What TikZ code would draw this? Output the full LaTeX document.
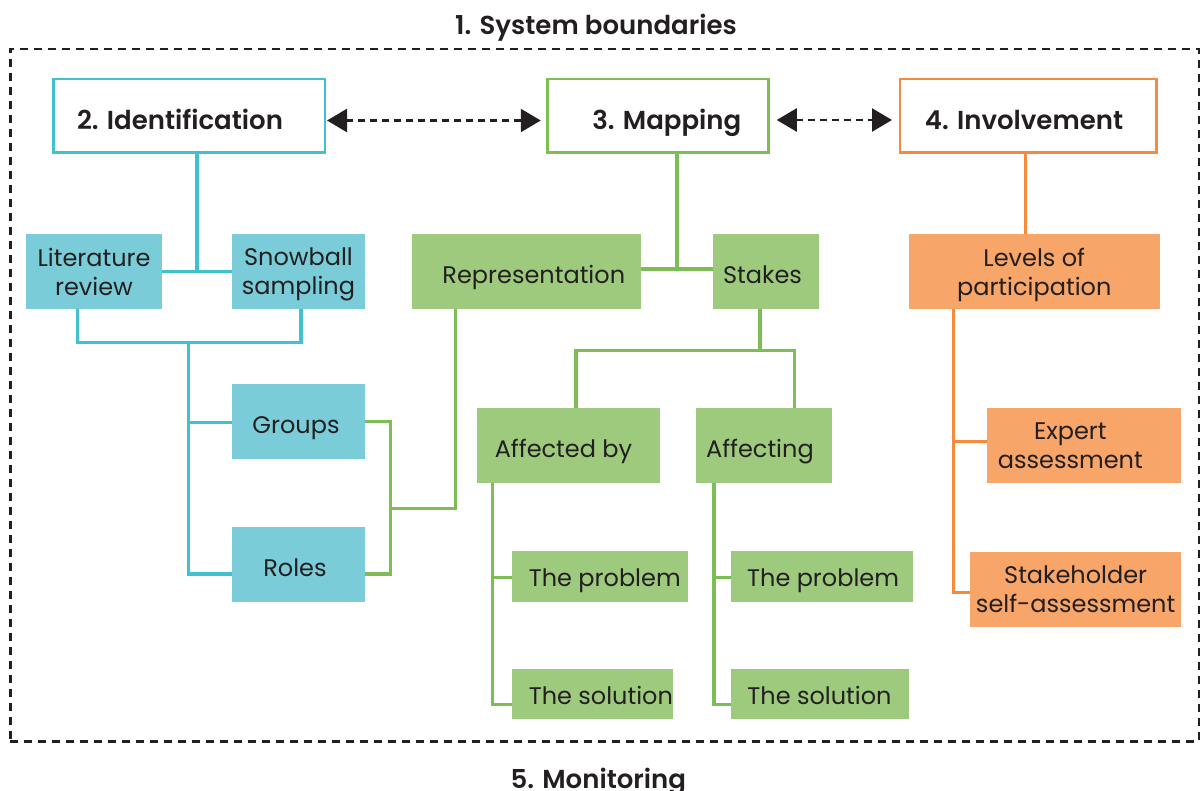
\documentclass[tikz,border=0pt]{standalone}
\usepackage{fontspec}
\setmainfont{Poppins}
\newfontfamily\headfont{Poppins SemiBold}
\usetikzlibrary{arrows.meta,calc}
\definecolor{ink}{RGB}{35,31,32}
\definecolor{cyanline}{RGB}{64,192,208}
\definecolor{cyanfill}{RGB}{122,205,216}
\definecolor{greenline}{RGB}{124,190,84}
\definecolor{greenfill}{RGB}{158,202,126}
\definecolor{orangeline}{RGB}{245,138,60}
\definecolor{orangefill}{RGB}{247,165,104}
\begin{document}
\begin{tikzpicture}[x=1pt,y=-1pt,
  every node/.style={inner sep=0pt, outer sep=0pt, text=ink},
  titletext/.style={font=\headfont\fontsize{26}{30}\selectfont, anchor=base},
  headbox/.style={draw, line width=2.5pt, fill=white, minimum height=73.5pt,
    text height=28pt, text depth=0pt, font=\headfont\fontsize{26}{30}\selectfont},
  itembox/.style={minimum height=74.4pt, text height=24pt, text depth=0pt,
    font=\fontsize{24}{29}\selectfont},
  twolinebox/.style={minimum height=74.4pt, align=center, text depth=0pt,
    font=\fontsize{24}{29}\selectfont},
  leafbox/.style={minimum height=50.4pt, text height=20pt, text depth=0pt,
    font=\fontsize{24}{29}\selectfont},
  link/.style={line width=3.3pt},
  dasharrow/.style={line width=2.5pt, ink, dash pattern=on 7pt off 5pt,
    {Triangle[length=20pt,width=23pt]}-{Triangle[length=20pt,width=23pt]}},
]
\useasboundingbox (0,0) rectangle (1203,791);

% system boundary frame and the two framing titles
\node[draw=ink, line width=2.5pt, dash pattern=on 8pt off 6pt,
  minimum width=1188.7pt, minimum height=692.7pt] (frame) at (604.65,395.35) {};
\node[titletext] (boundaries) at (596,34.5) {1. System boundaries};
\node[titletext] (monitoring) at (598.3,788.5) {5. Monitoring};

% top-level stages
\node[headbox, draw=cyanline, minimum width=271.5pt] (ident) at (189,116) {2. Identification\kern18pt};
\node[headbox, draw=greenline, minimum width=221pt] (map) at (657.75,116) {\kern18pt3. Mapping};
\node[headbox, draw=orangeline, minimum width=256.5pt] (inv) at (1028,116) {4. Involvement\kern8pt};

% identification branch
\node[twolinebox, fill=cyanfill, minimum width=136pt] (lit) at (94,271.5) {Literature\\review};
\node[twolinebox, fill=cyanfill, minimum width=133pt] (snow) at (298.5,271.5) {Snowball\\sampling};
\node[itembox, fill=cyanfill, minimum width=133pt] (groups) at (298.5,421.5) {Groups\kern5pt};
\node[itembox, fill=cyanfill, minimum width=133pt] (roles) at (298.5,564.5) {Roles\kern7pt};

% mapping branch
\node[itembox, fill=greenfill, minimum width=229pt] (rep) at (526.5,271.5) {\kern14.6pt Representation};
\node[itembox, fill=greenfill, minimum width=106pt] (stakes) at (766,271.5) {Stakes\kern7pt};
\node[itembox, fill=greenfill, minimum width=183pt] (affby) at (568.5,445.5) {Affected by\kern10pt};
\node[itembox, fill=greenfill, minimum width=135.6pt] (affing) at (764.2,445.5) {Affecting\kern8.6pt};
\node[leafbox, fill=greenfill, minimum width=175.6pt] (prob1) at (599.8,576.5) {\kern10pt The problem};
\node[leafbox, fill=greenfill, minimum width=160.7pt, minimum height=50pt] (sol1) at (592.35,694.3) {\kern17pt The solution};
\node[leafbox, fill=greenfill, minimum width=182.2pt] (prob2) at (821.6,576.5) {\kern3pt The problem};
\node[leafbox, fill=greenfill, minimum width=178pt, minimum height=50pt] (sol2) at (819.5,694.3) {The solution};

% involvement branch
\node[twolinebox, fill=orangefill, minimum width=251.5pt] (levels) at (1034.25,271.5) {Levels of\\participation};
\node[twolinebox, fill=orangefill, minimum width=194pt] (expert) at (1084.3,445.5) {Expert\kern28pt\\assessment\kern28pt};
\node[twolinebox, fill=orangefill, minimum width=211.3pt] (stakeh) at (1075.65,589.5) {Stakeholder\\self-assessment};

% junction points
\coordinate (jid) at ($(lit.east)!0.5!(snow.west)$);
\coordinate (cb) at (188.3,342.3);
\coordinate (gb) at (390.7,508.3);
\coordinate (jmap) at (677,269);
\coordinate (sb) at (760,350.7);

% arrows between stages
\draw[dasharrow] ([xshift=2.25pt,yshift=-4.5pt]ident.east) -- ([xshift=-6.5pt,yshift=-4.5pt]map.west);
\draw[dasharrow] ([xshift=8.5pt,yshift=-4pt]map.east) -- ([xshift=-7.75pt,yshift=-4pt]inv.west);

% identification connectors
\begin{scope}[link, cyanline]
  \draw (jid |- ident.south) -- (jid);
  \draw (lit.east) -- (snow.west);
  \draw ([xshift=-16.7pt]lit.south) |- (cb) -| ([xshift=2.5pt]snow.south);
  \draw (cb) |- ([yshift=-1.2pt]groups.west);
  \draw (cb) |- ([yshift=-9.5pt]roles.west);
\end{scope}

% mapping connectors
\begin{scope}[link, greenline]
  \draw (jmap |- map.south) -- (jmap);
  \draw (rep.east |- jmap) -- (stakes.west |- jmap);
  \draw (groups.east) -| (gb) |- ([yshift=-9.5pt]roles.east);
  \draw (gb) -| ([xshift=-71.1pt]rep.south);
  \draw ([xshift=-6pt]stakes.south) -- (sb);
  \draw (sb) -| ([xshift=7.5pt]affby.north);
  \draw (sb) -| ([xshift=30.2pt]affing.north);
  \draw ([xshift=15.5pt]affby.south west) |- ([yshift=-1.2pt]prob1.west);
  \draw ([xshift=15.5pt]affby.south west) |- ([yshift=-10pt]sol1.west);
  \draw ([xshift=17.6pt]affing.south west) |- ([yshift=-1.2pt]prob2.west);
  \draw ([xshift=17.6pt]affing.south west) |- ([yshift=-10pt]sol2.west);
\end{scope}

% involvement connectors
\begin{scope}[link, orangeline]
  \draw ([xshift=-2.4pt]inv.south) -- ([xshift=-2.4pt]inv.south |- levels.north);
  \draw ([xshift=44.7pt]levels.south west) |- ([yshift=3.8pt]expert.west);
  \draw ([xshift=44.7pt]levels.south west) |- ([yshift=-3.2pt]stakeh.west);
\end{scope}
\end{tikzpicture}
\end{document}
